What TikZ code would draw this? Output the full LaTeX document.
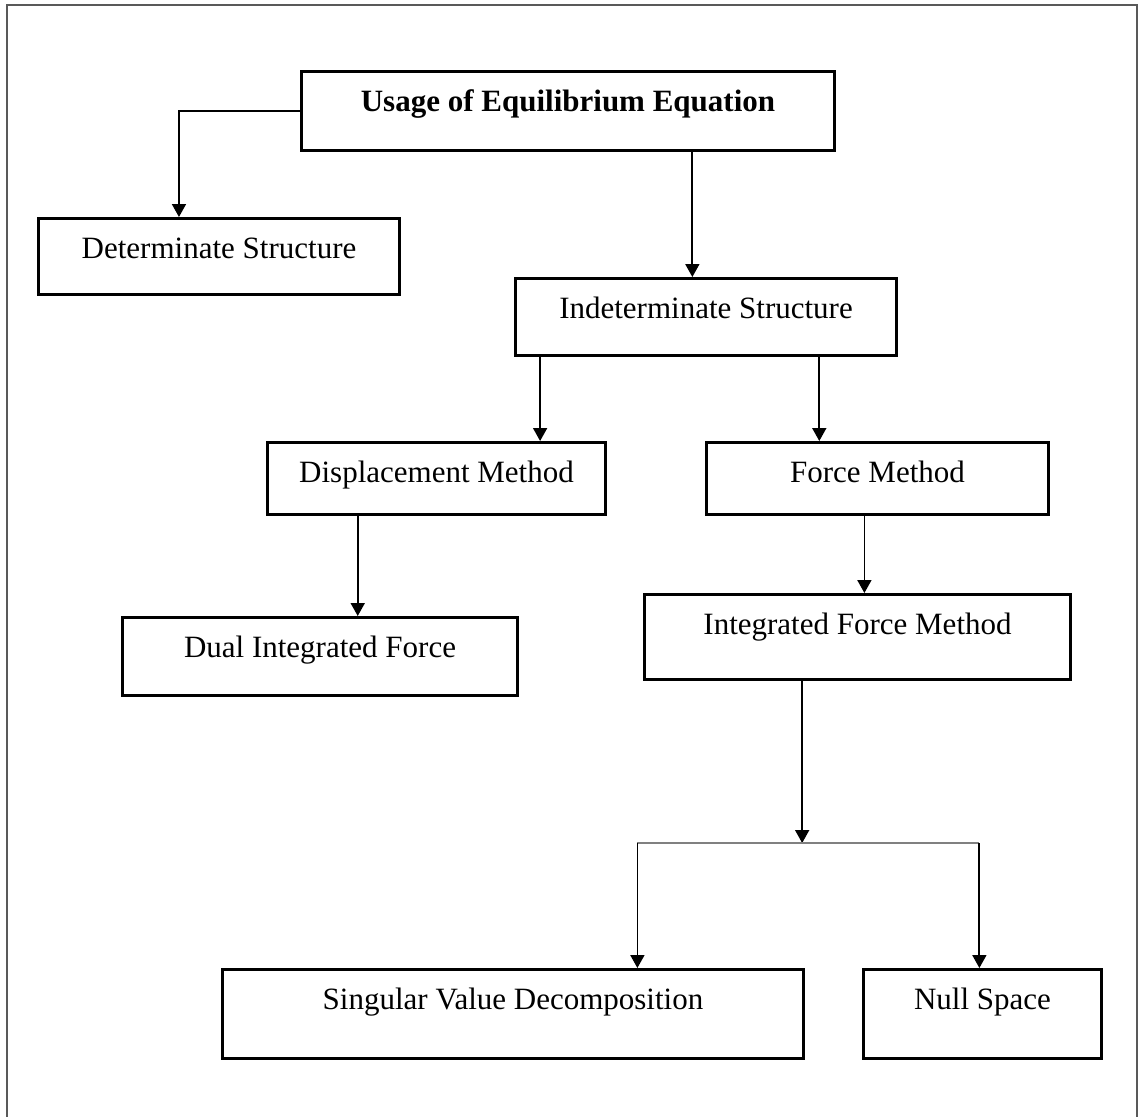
\documentclass[tikz,border=0pt]{standalone}
\usepackage{fontspec}
\setmainfont{Liberation Serif}
\usetikzlibrary{arrows.meta,calc}

\tikzset{
  % rectangle whose text baseline sits 40pt below its top edge
  pbox/.style 2 args={draw, line width=3pt, inner xsep=0pt, inner ysep=0pt,
    minimum width=#1, text height=40pt, text depth=#2, anchor=north west,
    font=\fontsize{31}{37}\selectfont},
  arr/.style={line width=1.8pt, -{Triangle[width=14pt,length=13pt]}},
  bar/.style={line width=2pt, draw=black!50},
  frame/.style={line width=2pt, draw=black!65}
}

\begin{document}
\begin{tikzpicture}[x=1pt,y=-1pt]
\useasboundingbox (0,0) rectangle (1139,1116);
\fill[white] (0,0) rectangle (1139,1116);
\draw[frame] (7,5) rectangle (1137,1140);

\node[pbox={533pt}{39pt}] (usage) at (300,70) {\bfseries Usage of Equilibrium Equation};
\node[pbox={361pt}{36pt}] (det)   at (37,217)  {Determinate Structure};
\node[pbox={381pt}{37pt}] (indet) at (514,277) {Indeterminate Structure};
\node[pbox={338pt}{32pt}] (disp)  at (266,441) {Displacement Method};
\node[pbox={342pt}{32pt}] (force) at (705,441) {Force Method};
\node[pbox={395pt}{38pt}] (dual)  at (121,616) {Dual Integrated Force};
\node[pbox={426pt}{45pt}] (ifm)   at (643,593) {Integrated Force Method};
\node[pbox={581pt}{49pt}] (svd)   at (221,968) {Singular Value Decomposition};
\node[pbox={238pt}{49pt}] (null)  at (862,968) {Null Space};

% usage -> determinate (elbow)
\coordinate (dettop) at ($(det.north west)!0.39!(det.north east)$);
\draw[arr] (usage.west) -| (dettop);

% usage -> indeterminate
\draw[arr] ($(usage.south west)!0.732!(usage.south east)$) coordinate (a1) -- (a1 |- indet.north);

% indeterminate -> displacement / force
\draw[arr] ($(indet.south west)!0.068!(indet.south east)$) coordinate (a2) -- (a2 |- disp.north);
\draw[arr] ($(indet.south west)!0.795!(indet.south east)$) coordinate (a3) -- (a3 |- force.north);

% displacement -> dual, force -> integrated
\draw[arr] ($(disp.south west)!0.269!(disp.south east)$) coordinate (a4) -- (a4 |- dual.north);
\draw[arr] ($(force.south west)!0.462!(force.south east)$) coordinate (a5) -- (a5 |- ifm.north);

% integrated -> split bar -> svd / null space
\coordinate (split) at ($(ifm.south west)!0.371!(ifm.south east) + (0,162)$);
\coordinate (svdtop) at ($(svd.north west)!0.713!(svd.north east)$);
\coordinate (nulltop) at ($(null.north west)!0.487!(null.north east)$);
\draw[arr] ($(ifm.south west)!0.371!(ifm.south east)$) -- (split);
\draw[bar] (svdtop |- split) -- (nulltop |- split);
\draw[arr] (svdtop |- split) -- (svdtop);
\draw[arr] (nulltop |- split) -- (nulltop);
\end{tikzpicture}
\end{document}
